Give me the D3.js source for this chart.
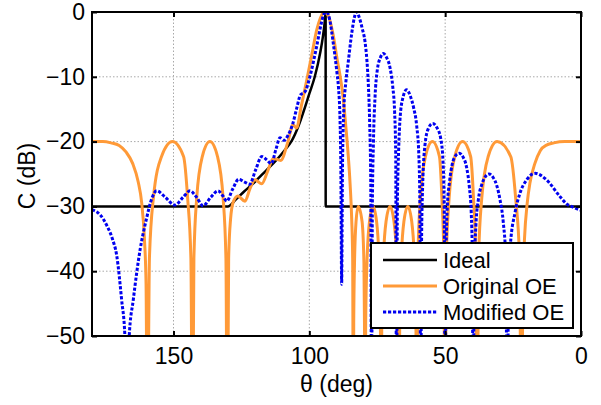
<!DOCTYPE html>
<html>
<head>
<meta charset="utf-8">
<script src="https://cdn.jsdelivr.net/npm/d3@7"></script>
<style>
  html, body { margin: 0; padding: 0; background: #fff; }
  svg { display: block; }
  text { font-family: "Liberation Sans", Arial, sans-serif; fill: #000; }
</style>
</head>
<body>
<div id="chart"></div>
<script>
// ---- data (theta in degrees, C in dB) ----
const thetaTicks = [150, 100, 50, 0];
const dbTicks = [0, -10, -20, -30, -40, -50];
const seriesNames = ["Ideal", "Original OE", "Modified OE"];

const idealData = [
  [180,-30],[130,-30],[127,-28.9],[124,-27.7],[120,-26.2],[116,-24.5],[112,-22.8],[109,-21.3],
  [106.5,-19.9],[104,-17.6],[102,-15.2],[100,-12.6],[98,-10.0],[96,-6.3],[95,-3.8],[94.4,-1.8],
  [94,0],[93.98,-30],[0,-30]
];

const originalData = [
  [180,-20],[176,-20],[173,-20.2],[170,-20.6],[167.5,-21.6],[165,-23.4],[163,-26.2],[161.7,-29.5],
  [160.7,-35],[160.1,-42],[159.6,-70],
  [158.86,-38],[157.4,-28.7],[154.4,-22.3],[150.4,-20],[146.3,-22.3],[144.8,-28.7],[143.6,-38],[143.0,-70],
  [142.49,-38],[141.46,-28.7],[139.4,-22.3],[136.6,-20],[133.8,-22.3],[131.74,-28.7],[130.7,-38],[130.2,-70],
  [129.7,-38],[129.0,-32],[128,-29.3],[126.3,-28.4],[123.7,-29.2],[121.8,-27.2],[120,-25.9],[117.5,-26.5],
  [115.3,-24.5],[113.3,-22.6],[110.5,-22.9],[108,-20.2],[106,-17.4],[104.7,-17.9],[103,-14.6],[101,-10.6],
  [99,-6.4],[97.3,-2.8],[96,-1.0],[94.6,0],[93,-0.6],[91.2,-3.6],[89.8,-7.2],[88.7,-9.8],[87.5,-13.4],
  [86.6,-17.5],[85.8,-21.5],[85.0,-26.5],[84.4,-32],[84.05,-38],[83.8,-70],
  [83.66,-48],[83.37,-38.7],[82.8,-32.3],[82.0,-30],[80.6,-32.3],[79.9,-38.7],[79.7,-48],[79.5,-70],
  [79.26,-48],[78.79,-38.7],[77.85,-32.3],[76.55,-30],[75.25,-32.3],[74.31,-38.7],[73.84,-48],[73.6,-70],
  [73.34,-48],[72.81,-38.7],[71.75,-32.3],[70.3,-30],[68.85,-32.3],[67.79,-38.7],[67.26,-48],[67.0,-70],
  [66.74,-48],[66.22,-38.7],[65.18,-32.3],[63.75,-30],[62.32,-32.3],[61.28,-38.7],[60.76,-48],[60.5,-70],
  [60.04,-38],[59.11,-28.7],[57.25,-22.3],[54.7,-20],[52.12,-22.3],[51.2,-28.7],[50.47,-38],[50.1,-70],
  [49.58,-38],[48.54,-28.7],[46.46,-22.3],[43.6,-20],[40.63,-22.3],[39.57,-28.7],[38.72,-38],[38.3,-70],
  [37.71,-38],[36.52,-28.7],[34.16,-22.3],[30.9,-20],[25.86,-22.3],[24.06,-28.7],[22.62,-38],[21.9,-70],
  [21.4,-42],[20.8,-35],[19.8,-29.5],[18.8,-26.4],[17,-23.4],[15,-21.4],[12.5,-20.5],[10,-20.2],[6,-20],[0,-20]
];

const modifiedData = [
  [180,-30.5],[177,-31.3],[174.6,-32.9],[172.5,-35],[170.9,-37.6],[169.1,-44.4],[167.9,-50],[167.2,-65],
  [166.3,-50],[164.8,-44.4],[162.3,-36.7],[160,-32],[158,-28.8],[156.2,-27.6],[153,-28.6],[149.5,-29.8],
  [146.5,-28.6],[143.9,-27.6],[141.5,-28.6],[139.1,-29.9],[136.3,-28.6],[133.6,-27.6],[131.8,-28.4],
  [130.4,-29.2],[128.3,-27.4],[126,-25.8],[124,-26.2],[122,-26.6],[119.8,-24.4],[117.5,-22.3],[115.7,-22.8],
  [114,-23.4],[112.3,-21.2],[110.8,-19.4],[109.3,-19.8],[107.8,-19.0],[106.2,-17.4],[104.5,-14.6],
  [103.3,-12.8],[101.6,-12.3],[99.8,-10],[97.3,-5.3],[95.5,-1.6],[94.6,-0.3],[93.6,0],[92.5,-1.2],
  [91.2,-4.8],[89.8,-9.5],[89.3,-11.5],[88.7,-16.7],[88.4,-24],[88.1,-42],
  [87.8,-24],[87.3,-15],[86.6,-11],[85.7,-7.8],[84.4,-3.3],[83.5,-1.0],[82.7,0],[81.5,-1.0],[80.5,-2.6],
  [79.5,-4.6],[78.8,-7.5],[78.3,-11],[77.8,-17],[77.4,-26],[77.1,-65],
  [76.8,-30],[76.4,-20],[75.8,-13],[75.0,-9.0],[73.8,-7.0],[72.8,-6.4],[71.6,-7.0],[70.3,-8.6],[69.3,-11.5],
  [68.6,-15.5],[68.2,-22],[67.9,-65],
  [67.6,-30],[67.1,-21],[66.6,-16.4],[65.6,-13.3],[64.2,-12.0],[62.8,-13.0],[61.6,-14.8],[60.5,-17.5],
  [59.7,-22],[59.3,-30],[59.0,-65],
  [58.7,-36],[58.3,-27],[57.4,-20.4],[56.2,-18],[54.6,-17.2],[53.1,-17.8],[51.6,-19.6],[50.8,-23],
  [50.35,-30],[50.0,-65],
  [49.7,-38],[49.2,-30],[48.4,-26.2],[47.4,-23.5],[46.2,-22.2],[44.8,-21.8],[43.4,-22.4],[42.1,-24],
  [41.1,-27],[40.4,-31],[40.0,-38],[39.7,-65],
  [39.3,-40],[38.7,-33],[37.8,-29],[36.5,-26.6],[35.2,-25.4],[33.9,-25.0],[32.4,-25.5],[31,-26.8],
  [29.8,-29],[28.6,-32.5],[27.7,-38],[27.1,-65],
  [26.7,-42],[26,-36],[24.3,-31],[22.5,-28],[20,-25.9],[16.9,-24.9],[12.7,-25.9],[7.7,-28.5],[5.3,-29.6],
  [2.5,-30.2],[0,-30.6]
];

// ---- layout ----
const W = 601, H = 405;
const L = 92, R = 581, T = 12, B = 336;

const svg = d3.select("#chart").append("svg").attr("width", W).attr("height", H);
svg.append("rect").attr("width", W).attr("height", H).attr("fill", "#fff");

const x = d3.scaleLinear().domain([180, 0]).range([L, R]);
const y = d3.scaleLinear().domain([-50, 0]).range([B, T]);

svg.append("clipPath").attr("id", "clip")
  .append("rect").attr("x", L).attr("y", T).attr("width", R - L).attr("height", B - T);

// grid
const grid = svg.append("g");
grid.selectAll(".gx").data(thetaTicks.filter(d => d !== 0 && d !== 180)).join("line")
  .attr("x1", d => x(d)).attr("x2", d => x(d)).attr("y1", T).attr("y2", B)
  .attr("stroke", "#a8a8a8").attr("stroke-width", 1).attr("stroke-dasharray", "1.5,2");
grid.selectAll(".gy").data(dbTicks.filter(d => d !== 0 && d !== -50)).join("line")
  .attr("y1", d => y(d)).attr("y2", d => y(d)).attr("x1", L).attr("x2", R)
  .attr("stroke", "#a8a8a8").attr("stroke-width", 1).attr("stroke-dasharray", "1.5,2");

// lines
const line = d3.line().x(d => x(d[0])).y(d => y(d[1])).curve(d3.curveMonotoneX);
const plot = svg.append("g").attr("clip-path", "url(#clip)");
const styles = [
  { data: idealData, color: "#000000", width: 2.5, dash: null },
  { data: originalData, color: "#ff9a38", width: 3, dash: null },
  { data: modifiedData, color: "#0000f0", width: 3, dash: "3.2,1.8" }
];
styles.forEach(s => {
  plot.append("path").datum(s.data)
    .attr("d", line).attr("fill", "none")
    .attr("stroke", s.color).attr("stroke-width", s.width)
    .attr("stroke-dasharray", s.dash).attr("stroke-linejoin", "round");
});

// axes
const fs = 23;
const xAxis = d3.axisBottom(x).tickValues(thetaTicks).tickSizeInner(-5).tickSizeOuter(0).tickPadding(12);
const yAxis = d3.axisLeft(y).tickValues(dbTicks).tickSizeInner(-5).tickSizeOuter(0).tickPadding(7);
const xAxisTop = d3.axisTop(x).tickValues(thetaTicks).tickSizeInner(-5).tickSizeOuter(0).tickFormat("");
const yAxisRight = d3.axisRight(y).tickValues(dbTicks).tickSizeInner(-5).tickSizeOuter(0).tickFormat("");

function styleAxis(g) {
  g.select(".domain").remove();
  g.selectAll(".tick line").attr("stroke", "#000").attr("stroke-width", 2);
  g.selectAll(".tick text").attr("font-size", fs).attr("font-family", "Liberation Sans, Arial, sans-serif").attr("fill", "#000");
}
svg.append("g").attr("transform", `translate(0,${B})`).call(xAxis).call(styleAxis);
svg.append("g").attr("transform", `translate(${L},0)`).call(yAxis).call(styleAxis);
svg.append("g").attr("transform", `translate(0,${T})`).call(xAxisTop).call(styleAxis);
svg.append("g").attr("transform", `translate(${R},0)`).call(yAxisRight).call(styleAxis);

// box
svg.append("rect").attr("x", L).attr("y", T).attr("width", R - L).attr("height", B - T)
  .attr("fill", "none").attr("stroke", "#000").attr("stroke-width", 2);

// axis labels
svg.append("text").attr("x", (L + R) / 2).attr("y", 392).attr("text-anchor", "middle")
  .attr("font-size", fs).text("θ (deg)");
svg.append("text").attr("transform", `translate(35,176) rotate(-90)`).attr("text-anchor", "middle")
  .attr("font-size", fs).text("C (dB)");

// legend
const lg = svg.append("g");
lg.append("rect").attr("x", 371).attr("y", 243).attr("width", 202).attr("height", 85)
  .attr("fill", "#fff").attr("stroke", "#000").attr("stroke-width", 2);
const rowsY = [260, 286, 312];
styles.forEach((s, i) => {
  lg.append("line").attr("x1", 383).attr("x2", 437).attr("y1", rowsY[i]).attr("y2", rowsY[i])
    .attr("stroke", s.color).attr("stroke-width", s.width).attr("stroke-dasharray", s.dash);
  lg.append("text").attr("x", 443).attr("y", rowsY[i]).attr("dy", "0.35em")
    .attr("font-size", 22).text(seriesNames[i]);
});
</script>
</body>
</html>
